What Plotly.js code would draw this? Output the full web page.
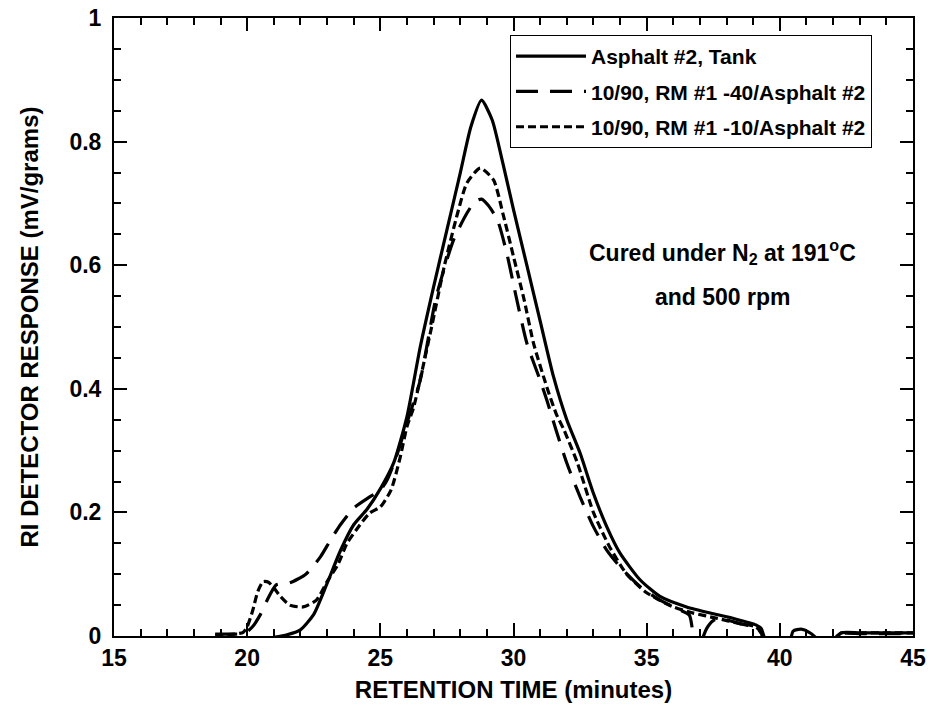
<!DOCTYPE html>
<html>
<head>
<meta charset="utf-8">
<script src="https://cdn.plot.ly/plotly-3.0.1.min.js"></script>
<style>html,body{margin:0;padding:0;background:#fff;}#chart{width:933px;height:711px;}</style>
</head>
<body>
<div id="chart"></div>
<script>
// Series names
const seriesNames = ["Asphalt #2, Tank", "10/90, RM #1 -40/Asphalt #2", "10/90, RM #1 -10/Asphalt #2"];

// Asphalt #2, Tank (solid)
const tankX = [21.0, 21.5, 22.0, 22.5, 23.0, 23.5, 24.0, 24.5, 25.0, 25.5, 26.0, 26.5, 27.0, 27.5, 28.0, 28.4, 28.8, 29.2, 29.6, 30.0, 30.5, 31.0, 31.5, 32.0, 32.5, 33.0, 33.5, 34.0, 34.75, 35.5, 36.5, 37.5, 38.3, 39.1, 39.3, 39.4, 39.6, 40.3, 40.5, 40.8, 41.1, 41.4, 41.6, 42.0, 42.3, 43, 44, 45];
const tankY = [-0.002, 0.002, 0.01, 0.035, 0.085, 0.138, 0.18, 0.205, 0.238, 0.28, 0.355, 0.468, 0.565, 0.657, 0.749, 0.824, 0.867, 0.835, 0.765, 0.69, 0.6, 0.51, 0.42, 0.35, 0.296, 0.231, 0.177, 0.134, 0.091, 0.064, 0.047, 0.036, 0.028, 0.018, 0.012, 0.0, -0.02, -0.02, 0.008, 0.011, 0.006, -0.005, -0.02, -0.01, 0.005, 0.005, 0.005, 0.005];

// 10/90, RM #1 -40/Asphalt #2 (long dash)
const rm40X = [18.8, 19.5, 19.9, 20.2, 20.5, 20.75, 21.1, 21.6, 22.2, 22.75, 23.1, 23.5, 24.0, 24.6, 25.0, 25.25, 25.6, 26.0, 26.5, 27.1, 27.75, 28.25, 28.55, 28.8, 29.05, 29.4, 29.75, 30.1, 30.5, 31.0, 31.25, 31.6, 32.0, 32.5, 33.0, 33.5, 34.0, 34.75, 35.5, 36.2, 36.6, 36.75, 36.9, 37.05, 37.25, 37.5, 37.8, 38.5, 39.1, 39.3, 39.5, 41, 42.0, 42.3, 43, 44, 45];
const rm40Y = [0.003, 0.003, 0.004, 0.015, 0.035, 0.058, 0.083, 0.086, 0.1, 0.128, 0.153, 0.18, 0.207, 0.225, 0.236, 0.252, 0.29, 0.345, 0.414, 0.549, 0.641, 0.684, 0.703, 0.707, 0.697, 0.673, 0.619, 0.549, 0.474, 0.414, 0.382, 0.333, 0.28, 0.225, 0.177, 0.139, 0.112, 0.08, 0.058, 0.043, 0.034, 0.0, -0.03, -0.01, 0.012, 0.025, 0.028, 0.02, 0.014, 0.005, -0.02, -0.02, -0.005, 0.004, 0.004, 0.004, 0.004];

// 10/90, RM #1 -10/Asphalt #2 (short dash)
const rm10X = [18.8, 19.5, 19.85, 20.0, 20.2, 20.4, 20.6, 20.8, 21.0, 21.25, 21.6, 22.1, 22.6, 23.0, 23.4, 23.75, 24.1, 24.6, 25.0, 25.4, 25.75, 26.0, 26.25, 26.9, 27.4, 27.9, 28.25, 28.75, 29.25, 29.6, 30.0, 30.4, 30.75, 31.25, 31.6, 31.9, 32.4, 33.0, 33.6, 34.25, 35.0, 36.0, 36.75, 37.6, 38.5, 39.1, 39.3, 39.5, 41, 42, 42.3, 43, 44, 45];
const rm10Y = [0.002, 0.003, 0.006, 0.015, 0.04, 0.072, 0.088, 0.087, 0.078, 0.064, 0.05, 0.047, 0.058, 0.088, 0.115, 0.15, 0.172, 0.199, 0.209, 0.236, 0.29, 0.339, 0.37, 0.495, 0.598, 0.684, 0.733, 0.757, 0.738, 0.684, 0.614, 0.544, 0.474, 0.403, 0.36, 0.333, 0.28, 0.2, 0.145, 0.1, 0.07, 0.047, 0.037, 0.029, 0.02, 0.015, 0.005, -0.02, -0.02, -0.005, 0.005, 0.005, 0.005, 0.005];

const FONT = 'Arial, "Liberation Sans", sans-serif';

const traces = [
  {x: tankX, y: tankY, name: seriesNames[0], legendgroup: 'a', mode: 'lines',
   line: {color: '#000', width: 3.2, dash: 'solid', shape: 'spline', smoothing: 0.6}},
  {x: rm40X, y: rm40Y, name: seriesNames[1], legendgroup: 'b', mode: 'lines',
   line: {color: '#000', width: 3.2, dash: '22px,12px', shape: 'spline', smoothing: 0.6}},
  {x: rm10X, y: rm10Y, name: seriesNames[2], legendgroup: 'c', mode: 'lines',
   line: {color: '#000', width: 3.2, dash: '8px,4px', shape: 'spline', smoothing: 0.6}}
];

function axisBase() {
  return {
    showline: true, linecolor: '#000', linewidth: 2, mirror: 'ticks',
    ticks: 'inside', ticklen: 13, tickwidth: 2, tickcolor: '#000',
    showgrid: false, zeroline: false,
    tickfont: {family: FONT, size: 23, color: '#000', weight: 'bold'}
  };
}

const layout = {
  width: 933, height: 711,
  margin: {l: 114, r: 20, t: 18, b: 75},
  paper_bgcolor: '#fff', plot_bgcolor: '#fff',
  font: {family: FONT, color: '#000'},
  xaxis: Object.assign(axisBase(), {
    range: [15, 45], dtick: 5, tick0: 15,
    minor: {dtick: 1, tick0: 15, ticks: 'inside', ticklen: 7, tickwidth: 2, tickcolor: '#000', showgrid: false},
    title: {text: 'RETENTION TIME (minutes)', font: {family: FONT, size: 24, weight: 'bold', color: '#000'}, standoff: 12}
  }),
  yaxis: Object.assign(axisBase(), {
    range: [0, 1], dtick: 0.2, tick0: 0,
    minor: {dtick: 0.05, tick0: 0, ticks: 'inside', ticklen: 7, tickwidth: 2, tickcolor: '#000', showgrid: false},
    ticklabelstandoff: 6,
    title: {text: 'RI DETECTOR RESPONSE (mV/grams)', font: {family: FONT, size: 24, weight: 'bold', color: '#000'}, standoff: 24}
  }),
  showlegend: true,
  legend: {
    x: 0.4956, y: 0.9725, xanchor: 'left', yanchor: 'top',
    bgcolor: '#fff', bordercolor: '#000', borderwidth: 1,
    font: {family: FONT, size: 21, weight: 'bold', color: '#000'},
    traceorder: 'grouped', tracegroupgap: 5, itemwidth: 70
  },
  annotations: [
    {xref: 'paper', yref: 'paper', x: 0.762, y: 0.621, xanchor: 'center', yanchor: 'middle', showarrow: false,
     text: 'Cured under N<sub>2</sub> at 191<sup>o</sup>C', font: {family: FONT, size: 23, weight: 'bold', color: '#000'}},
    {xref: 'paper', yref: 'paper', x: 0.762, y: 0.5485, xanchor: 'center', yanchor: 'middle', showarrow: false,
     text: 'and 500 rpm', font: {family: FONT, size: 23, weight: 'bold', color: '#000'}}
  ]
};

Plotly.newPlot('chart', traces, layout, {displayModeBar: false, staticPlot: true});
</script>
</body>
</html>
